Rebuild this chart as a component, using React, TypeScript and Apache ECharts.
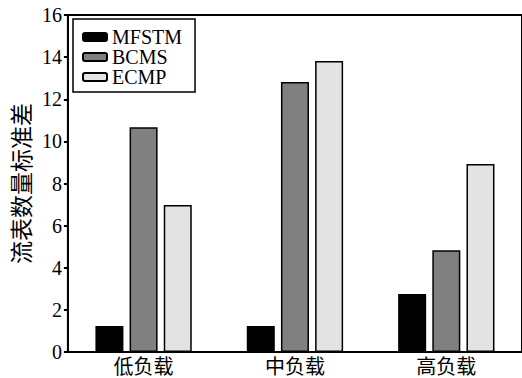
import React, { useEffect, useRef } from "react";
import * as echarts from "echarts";

const categories = ["低负载", "中负载", "高负载"];
const seriesNames = ["MFSTM", "BCMS", "ECMP"];
const mfstm = [1.23, 1.23, 2.75];
const bcms = [10.67, 12.82, 4.83];
const ecmp = [6.98, 13.82, 8.93];
const colors = ["#000000", "#808080", "#e3e3e3"];

export default function App() {
  const ref = useRef<HTMLDivElement>(null);
  useEffect(() => {
    if (!ref.current) return;
    const chart = echarts.init(ref.current, undefined, { renderer: "svg" });
    const serif = "'Liberation Serif', 'Times New Roman', serif";
    const cjk = "'Noto Sans CJK SC', sans-serif";
    const data = [mfstm, bcms, ecmp];
    chart.setOption({
      animation: false,
      backgroundColor: "#ffffff",
      grid: {
        left: 67,
        top: 15,
        width: 456,
        height: 337,
        show: true,
        borderColor: "#000",
        borderWidth: 2,
        backgroundColor: "transparent",
      },
      legend: {
        orient: "vertical",
        left: 73,
        top: 19,
        itemWidth: 24,
        itemHeight: 8,
        itemGap: 0,
        padding: [8, 13, 5, 9],
        borderColor: "#000",
        borderWidth: 1.5,
        textStyle: { fontFamily: serif, fontSize: 20, color: "#000", lineHeight: 20 },
        data: seriesNames,
      },
      xAxis: {
        type: "category",
        data: categories,
        axisLine: { lineStyle: { color: "#000", width: 2 } },
        axisTick: { show: false },
        axisLabel: {
          fontFamily: cjk,
          fontSize: 20,
          color: "#000",
          margin: 3,
        },
      },
      yAxis: {
        type: "value",
        min: 0,
        max: 16,
        interval: 2,
        name: "流表数量标准差",
        nameLocation: "middle",
        nameRotate: 90,
        nameGap: 30,
        nameTextStyle: {
          fontFamily: cjk,
          fontSize: 23,
          color: "#000",
        },
        axisLine: { show: true, lineStyle: { color: "#000", width: 2 } },
        axisTick: { show: true, inside: false, length: 4, lineStyle: { color: "#000", width: 2 } },
        splitLine: { show: false },
        axisLabel: { fontFamily: serif, fontSize: 20, color: "#000", margin: 6 },
      },
      series: seriesNames.map((name, i) => ({
        name,
        type: "bar",
        data: data[i],
        barWidth: 28,
        barGap: "22%",
        itemStyle: { color: colors[i], borderColor: "#000", borderWidth: 1.5 },
      })),
    });
    return () => chart.dispose();
  }, []);
  return (
    <div
      ref={ref}
      style={{ position: "absolute", left: 0, top: 0, width: 522, height: 378 }}
    />
  );
}
